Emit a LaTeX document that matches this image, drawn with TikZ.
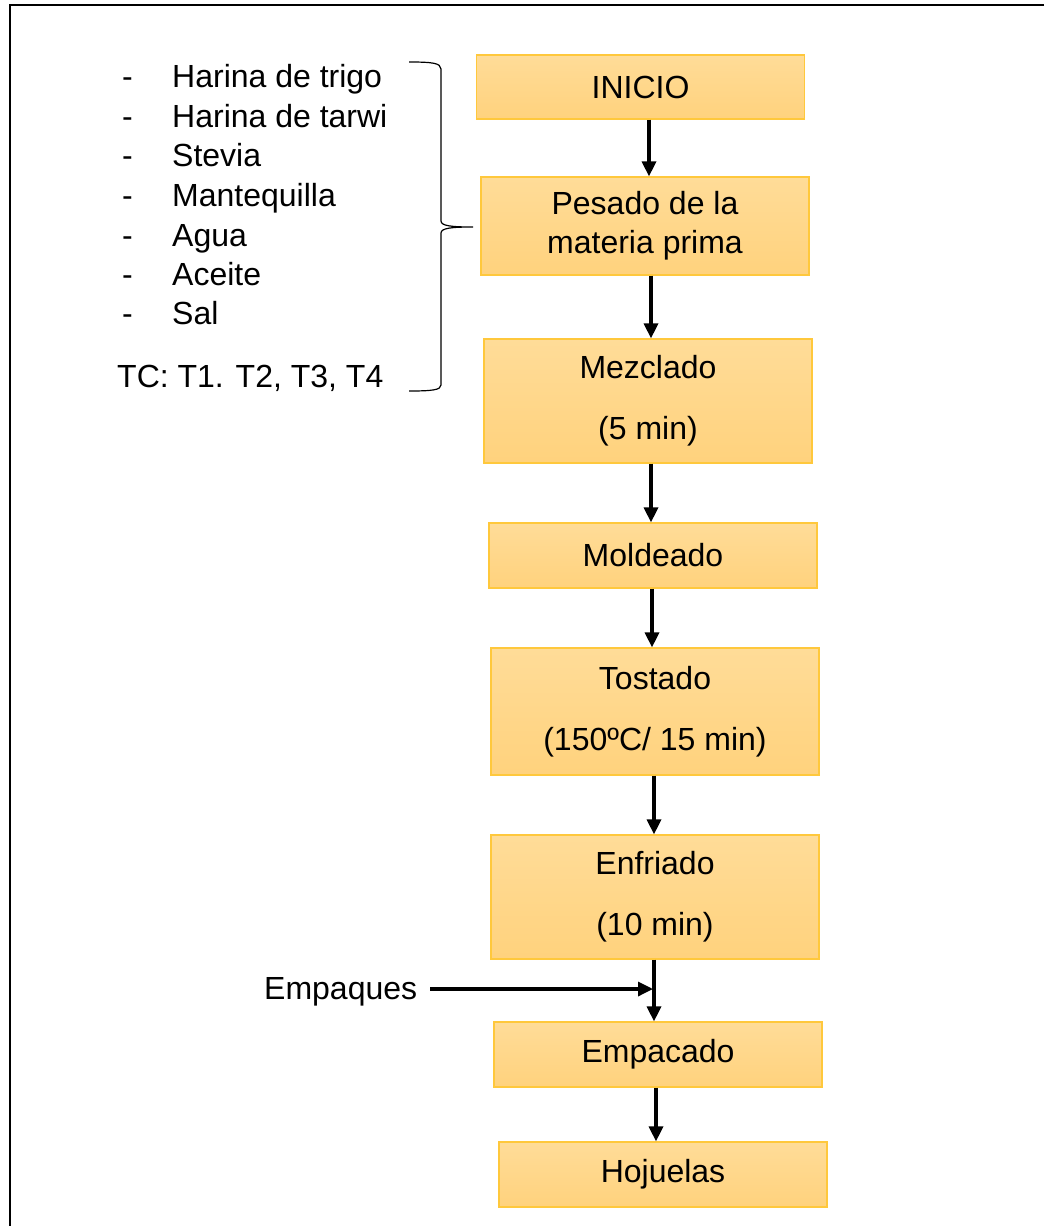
\documentclass[tikz,border=0pt]{standalone}
\usepackage{fontspec}
\setmainfont{Liberation Sans}
\usetikzlibrary{arrows.meta}
\definecolor{boxtop}{RGB}{255,220,152}
\definecolor{boxbot}{RGB}{255,210,125}
\definecolor{boxline}{RGB}{255,200,60}
\tikzset{
  procbox/.style={draw=boxline, line width=1.2pt, top color=boxtop, bottom color=boxbot,
    minimum width=328pt, inner sep=0pt, align=center, font=\fontsize{32}{39}\selectfont},
  arr/.style={line width=3.3pt, -{Triangle[width=14pt,length=15pt]}},
  lbl/.style={inner sep=0pt, anchor=base west, font=\fontsize{32}{39}\selectfont},
}
\begin{document}
\begin{tikzpicture}[x=1pt,y=-1pt]
\useasboundingbox (0,0) rectangle (1044,1226);
\draw[line width=2.4pt] (1044,5) -- (10,5) -- (10,1226);

% boxes
\node[procbox, minimum height=64pt] (b1) at (640.5,87) {INICIO};
\node[procbox, minimum height=98pt] (b2) at (645,226) {Pesado de la\\materia prima};
\node[procbox, minimum height=124pt] (b3) at (648,401) {Mezclado\\[22pt](5 min)};
\node[procbox, minimum height=65pt] (b4) at (653,555.5) {Moldeado};
\node[procbox, minimum height=127pt] (b5) at (655,711.5) {Tostado\\[22pt](150ºC/ 15 min)};
\node[procbox, minimum height=124pt] (b6) at (655,897) {Enfriado\\[22pt](10 min)};
\node[procbox, minimum height=65pt] (b7) at (658,1054.5) {Empacado};
\node[procbox, minimum height=65pt] (b8) at (663,1174.5) {Hojuelas};

% arrows
\draw[arr] (649,0 |- b1.south) -- (649,0 |- b2.north);
\draw[arr] (651,0 |- b2.south) -- (651,0 |- b3.north);
\draw[arr] (651,0 |- b3.south) -- (651,0 |- b4.north);
\draw[arr] (652,0 |- b4.south) -- (652,0 |- b5.north);
\draw[arr] (654,0 |- b5.south) -- (654,0 |- b6.north);
\draw[arr] (654,0 |- b6.south) -- (654,0 |- b7.north);
\draw[arr] (656,0 |- b7.south) -- (656,0 |- b8.north);

% Empaques
\node[lbl] (emp) at (264,999) {Empaques};
\coordinate (join) at (653,989);
\draw[arr] (430,989) -- (join);

% ingredient list
\foreach \t/\y [count=\i] in {Harina de trigo/87, Harina de tarwi/127, Stevia/166, Mantequilla/206, Agua/246, Aceite/285, Sal/324}{
  \node[lbl] (d\i) at (122,\y) {-};
  \node[lbl] (ing\i) at (172,\y) {\t};
}
\node[lbl] (tc) at (117,387) {TC: T1. T2, T3, T4};

% brace
\draw[line width=1.2pt] (409,62) .. controls (432,62) and (441,63) .. (441,69)
  -- (441,221) .. controls (441,226) and (452,227) .. (473,227)
  .. controls (452,227) and (441,228) .. (441,233)
  -- (441,385) .. controls (441,390) and (432,391) .. (409,391);
\end{tikzpicture}
\end{document}
